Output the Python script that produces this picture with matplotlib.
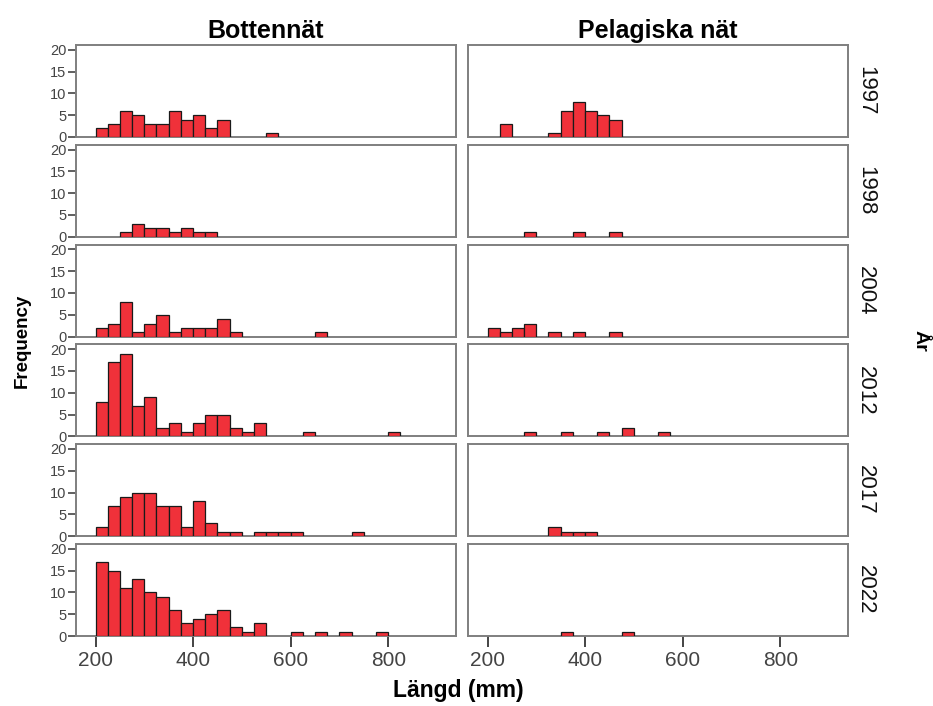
import numpy as np
import matplotlib
matplotlib.use("Agg")
import matplotlib.pyplot as plt

plt.rcParams['font.family'] = ['Liberation Sans', 'DejaVu Sans']

# Längdklasser, 25 mm breda, från 200 mm
bin_start = 200
bin_width = 25

years = ["1997", "1998", "2004", "2012", "2017", "2022"]
columns = ["Bottennät", "Pelagiska nät"]

# Antal per längdklass (klass 0 = 200-225 mm)
botten = {
    "1997": [2, 3, 6, 5, 3, 3, 6, 4, 5, 2, 4, 0, 0, 0, 1],
    "1998": [0, 0, 1, 3, 2, 2, 1, 2, 1, 1],
    "2004": [2, 3, 8, 1, 3, 5, 1, 2, 2, 2, 4, 1, 0, 0, 0, 0, 0, 0, 1],
    "2012": [8, 17, 19, 7, 9, 2, 3, 1, 3, 5, 5, 2, 1, 3, 0, 0, 0, 1, 0, 0, 0, 0, 0, 0, 1],
    "2017": [2, 7, 9, 10, 10, 7, 7, 2, 8, 3, 1, 1, 0, 1, 1, 1, 1, 0, 0, 0, 0, 1],
    "2022": [17, 15, 11, 13, 10, 9, 6, 3, 4, 5, 6, 2, 1, 3, 0, 0, 1, 0, 1, 0, 1, 0, 0, 1],
}
pelagisk = {
    "1997": [0, 3, 0, 0, 0, 1, 6, 8, 6, 5, 4],
    "1998": [0, 0, 0, 1, 0, 0, 0, 1, 0, 0, 1],
    "2004": [2, 1, 2, 3, 0, 1, 0, 1, 0, 0, 1],
    "2012": [0, 0, 0, 1, 0, 0, 1, 0, 0, 1, 0, 2, 0, 0, 1],
    "2017": [0, 0, 0, 0, 0, 2, 1, 1, 1],
    "2022": [0, 0, 0, 0, 0, 0, 1, 0, 0, 0, 0, 1],
}

x_ticks = [200, 400, 600, 800]
y_ticks = [0, 5, 10, 15, 20]

bar_color = "#f0313a"
frame_color = "#7f7f7f"
text_grey = "#444444"

W, H = 933, 706
fig = plt.figure(figsize=(W / 100, H / 100), dpi=100)

col_left = [76, 468]
col_width = 380
row_top = 45
row_height = 92
row_step = 99.8

def draw_panel(ax, counts):
    counts = np.array(counts)
    left = bin_start + bin_width * np.arange(len(counts))
    keep = counts > 0
    ax.bar(left[keep], counts[keep], width=bin_width, align="edge",
           color=bar_color, edgecolor="#1a1a1a", linewidth=0.9, zorder=3)
    ax.set_xlim(160, 939)
    ax.set_ylim(0, 21.1)
    for s in ax.spines.values():
        s.set_color(frame_color)
        s.set_linewidth(1.4)

for r, year in enumerate(years):
    top = row_top + r * row_step
    for c, data in enumerate([botten, pelagisk]):
        ax = fig.add_axes([col_left[c] / W, 1 - (top + row_height) / H,
                           col_width / W, row_height / H])
        draw_panel(ax, data[year])

        if c == 0:
            ax.set_yticks(y_ticks)
            ax.tick_params(axis="y", direction="out", length=6, width=1.2,
                           color=text_grey, labelsize=10.5, labelcolor=text_grey, pad=1)
        else:
            ax.set_yticks([])

        if r == len(years) - 1:
            ax.set_xticks(x_ticks)
            ax.tick_params(axis="x", direction="out", length=8, width=1.4,
                           color=text_grey, labelsize=15, labelcolor=text_grey, pad=3)
        else:
            ax.set_xticks([])

        if r == 0:
            ax.set_title(columns[c], fontsize=18, fontweight="bold", pad=5)

        if c == 1:
            ax.text(1.047, 0.5, year, transform=ax.transAxes, rotation=-90,
                    ha="center", va="center", fontsize=16, color="#111111")

mid_y = 1 - (row_top + (5 * row_step + row_height) / 2) / H
fig.text(22 / W, mid_y, "Frequency", rotation=90, ha="center", va="center",
         fontsize=13.5, fontweight="bold")
fig.text(920 / W, mid_y, "År", rotation=-90, ha="center", va="center",
         fontsize=14, fontweight="bold")
fig.text(458 / W, 1 - 690 / H, "Längd (mm)", ha="center", va="center",
         fontsize=16.5, fontweight="bold")

fig.savefig("out.png", dpi=100)
